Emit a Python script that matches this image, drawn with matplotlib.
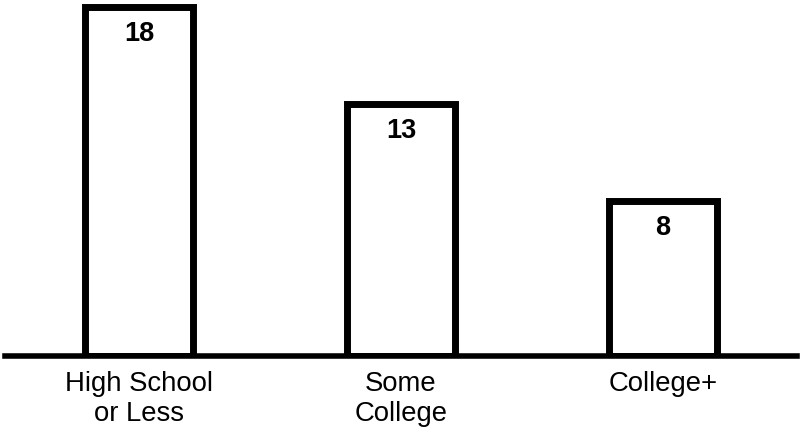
import matplotlib.pyplot as plt

categories = ['High School\nor Less', 'Some\nCollege', 'College+']
values = [18, 13, 8]

plt.rcParams['font.family'] = ['Liberation Sans', 'DejaVu Sans']

fig = plt.figure(figsize=(8, 4.32), dpi=100)
ax = fig.add_axes([5/800, 76/432, 792/800, 356/432])

x = range(len(values))
ax.bar(x, values, width=0.412, color='white', edgecolor='black', linewidth=5, zorder=2)

# value labels just inside the top of each bar
for i, v in enumerate(values):
    ax.annotate(str(v), (i, v), xytext=(0, -10), textcoords='offset points',
                ha='center', va='top', fontsize=19.5, fontweight='bold')

ax.set_xlim(-0.511, 2.511)
ax.set_ylim(0, 356/19.4)
ax.axhline(0, color='black', linewidth=4, zorder=3, clip_on=False)

for s in ax.spines.values():
    s.set_visible(False)
ax.set_yticks([])
ax.set_xticks(list(x))
ax.set_xticklabels(categories, fontsize=19.8, linespacing=1.2)
ax.tick_params(axis='x', length=0, pad=11)

fig.savefig('out.png', dpi=100)
